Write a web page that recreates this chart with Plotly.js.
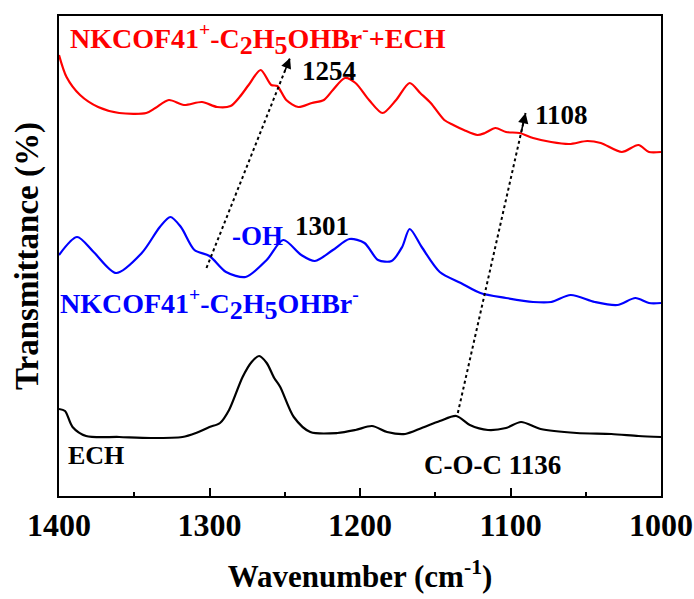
<!DOCTYPE html>
<html>
<head>
<meta charset="utf-8">
<script src="https://cdn.plot.ly/plotly-3.0.1.min.js"></script>
<style>html,body{margin:0;padding:0;background:#fff;}#chart{width:694px;height:599px;}</style>
</head>
<body>
<div id="chart"></div>
<script>
// ECH + NKCOF41 (red, top)
const redWn = [1400,1395,1386,1374,1360,1342,1336,1327,1317,1305,1295,1286,1280,1274,1266,1259,1255,1249,1241,1232,1224,1218,1210,1203,1194,1185,1176,1167,1160,1153,1144,1138,1131,1122,1117,1110,1103,1094,1085,1073,1061,1049,1040,1026,1015,1008,1000];
const redT  = [441,419,401,389,383,383,388,396,391,394,389,390,399,411,426,411,410,396,389,393,396,406,418,413,396,383,396,413,403,393,376,371,366,361,363,368,364,363,358,354,352,355,353,344,351,344,344];
// NKCOF41+-C2H5OHBr- (blue, middle)
const blueWn = [1400,1388,1377,1362,1345,1333,1326,1319,1310,1300,1289,1276,1262,1251,1239,1230,1218,1207,1197,1188,1179,1172,1167,1159,1147,1133,1120,1103,1085,1073,1060,1044,1029,1017,1008,1000];
const blueT  = [241,259,244,223,243,269,279,269,246,240,224,219,236,256,241,235,246,257,253,236,235,249,267,249,224,213,203,198,194,194,201,194,191,198,193,193];
// ECH (black, bottom)
const blackWn = [1400,1396,1391,1382,1360,1339,1318,1309,1300,1293,1287,1278,1272,1267,1262,1257,1253,1244,1233,1215,1203,1192,1182,1170,1159,1147,1136,1127,1115,1103,1093,1080,1056,1033,1015,1000];
const blackT  = [87,85,69,60,59,58,59,63,69,73,86,119,134,140,133,118,109,79,64,63,66,70,64,62,68,75,80,71,66,68,74,67,63,62,60,59];

// Peak-shift arrows: [tail wavenumber, tail value, head wavenumber, head value]
const shiftArrowA = [1302, 228, 1246.5, 438];   // 1301 -> 1254
const shiftArrowB = [1135, 83, 1090, 383];      // 1136 -> 1108

const tickVals = [1400, 1300, 1200, 1100, 1000];
const tickText = ['1400', '1300', '1200', '1100', '1000'];

const FONT = 'Liberation Serif, Times New Roman, serif';

function curve(x, y, color) {
  return {x: x, y: y, type: 'scatter', mode: 'lines',
    line: {color: color, width: 2.2, shape: 'spline', smoothing: 0.8},
    hoverinfo: 'skip', showlegend: false};
}
function dotted(a) {
  return {x: [a[0], a[2]], y: [a[1], a[3]], type: 'scatter', mode: 'lines',
    line: {color: '#000', width: 2, dash: 'dot'}, hoverinfo: 'skip', showlegend: false};
}
function head(a) {
  const f = 0.07;
  return {x: a[2], y: a[3], xref: 'x', yref: 'y',
    ax: a[2] + f * (a[0] - a[2]), ay: a[3] + f * (a[1] - a[3]), axref: 'x', ayref: 'y',
    showarrow: true, arrowhead: 2, arrowsize: 1.3, arrowwidth: 1.6, arrowcolor: '#000', text: ''};
}
function label(text, x, y, color, size) {
  return {text: '<b>' + text + '</b>', x: x, y: y, xref: 'paper', yref: 'paper',
    xanchor: 'left', yanchor: 'middle', showarrow: false,
    font: {family: FONT, size: size, color: color}};
}
function bigSub(s) { return '<sub><span style="font-size:26px">' + s + '</span></sub>'; }
const formula = 'NKCOF41<sup>+</sup>-C' + bigSub('2') + 'H' + bigSub('5') + 'OHBr<sup>-</sup>';

const data = [
  curve(redWn, redT, '#ff0000'),
  curve(blueWn, blueT, '#0000ff'),
  curve(blackWn, blackT, '#000000'),
  dotted(shiftArrowA),
  dotted(shiftArrowB)
];

const layout = {
  width: 694, height: 599,
  margin: {l: 59, r: 33, t: 16, b: 103},
  paper_bgcolor: '#fff', plot_bgcolor: '#fff',
  font: {family: FONT, color: '#000'},
  xaxis: {
    range: [1400, 1000], autorange: false,
    tickvals: tickVals, ticktext: tickText.map(t => '<b>' + t + '</b>'),
    ticks: 'inside', ticklen: 8, tickwidth: 2, tickcolor: '#000',
    minor: {ticks: 'inside', ticklen: 4, tickwidth: 2, dtick: 50, tickcolor: '#000'},
    showline: true, linewidth: 2, linecolor: '#000', mirror: true,
    showgrid: false, zeroline: false,
    tickfont: {family: FONT, size: 32, color: '#000'},
    title: {text: '<b>Wavenumber (cm<sup>-1</sup>)</b>', font: {family: FONT, size: 31, color: '#000'}, standoff: 23}
  },
  yaxis: {
    range: [0, 480], autorange: false,
    showticklabels: false, ticks: '',
    showline: true, linewidth: 2, linecolor: '#000', mirror: true,
    showgrid: false, zeroline: false,
    title: {text: '<b>Transmittance (%)</b>', font: {family: FONT, size: 33, color: '#000'}, standoff: 8}
  },
  annotations: [
    label(formula + '+ECH', 0.015, 0.952, '#ff0000', 28),
    label('1254', 0.40, 0.885, '#000', 27),
    label('1108', 0.787, 0.794, '#000', 27),
    label('-OH', 0.284, 0.542, '#0000ff', 27),
    label('1301', 0.389, 0.5625, '#000', 27),
    label(formula, -0.002, 0.40, '#0000ff', 28),
    label('ECH', 0.0116, 0.085, '#000', 26),
    label('C-O-C 1136', 0.603, 0.0646, '#000', 27),
    head(shiftArrowA),
    head(shiftArrowB)
  ]
};

Plotly.newPlot('chart', data, layout, {staticPlot: true, displayModeBar: false});
</script>
</body>
</html>
